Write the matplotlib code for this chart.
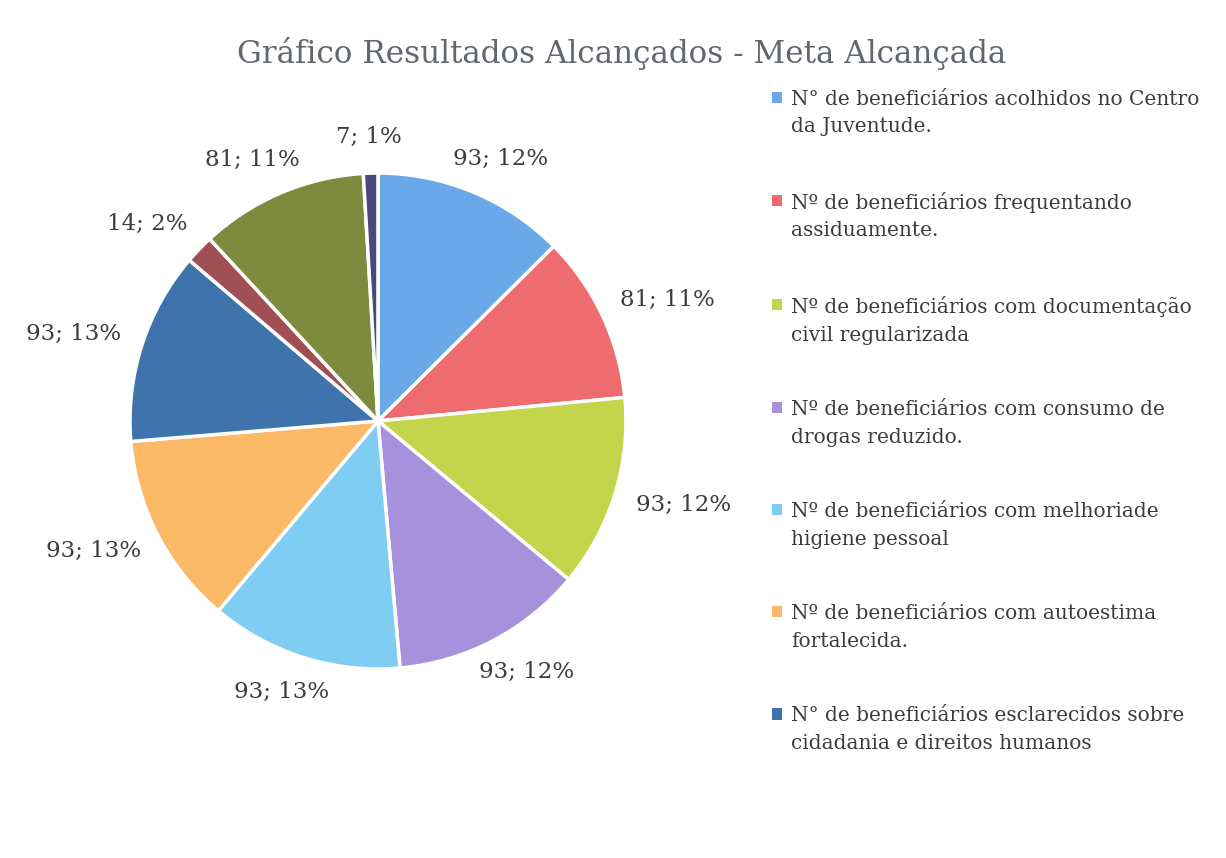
import numpy as np
import matplotlib.pyplot as plt
from matplotlib.patches import Patch, Rectangle
from matplotlib.legend_handler import HandlerPatch

# data
valores = [93, 81, 93, 93, 93, 93, 93, 14, 81, 7]
percentuais = ["12%", "11%", "12%", "12%", "13%", "13%", "13%", "2%", "11%", "1%"]
legendas = [
    "N° de beneficiários acolhidos no Centro\nda Juventude.",
    "Nº de beneficiários frequentando\nassiduamente.",
    "Nº de beneficiários com documentação\ncivil regularizada",
    "Nº de beneficiários com consumo de\ndrogas reduzido.",
    "Nº de beneficiários com melhoriade\nhigiene pessoal",
    "Nº de beneficiários com autoestima\nfortalecida.",
    "N° de beneficiários esclarecidos sobre\ncidadania e direitos humanos",
]
cores = ["#6aa8ea", "#ee6b6e", "#c3d54b", "#a891dc", "#7fcdf2",
         "#fbb866", "#3f73ab", "#a04f55", "#7e8b3e", "#4a4a7a"]

plt.rcParams['font.family'] = ['DejaVu Serif']
txt = "#3c3c3c"

fig = plt.figure(figsize=(12.26, 8.58), dpi=100)
ax = fig.add_axes([0.106, 0.2203, 0.4046, 0.578])

wedges, _ = ax.pie(valores, colors=cores, startangle=90, counterclock=False,
                   wedgeprops=dict(edgecolor="white", linewidth=2.5))
ax.set_aspect("equal")
ax.set_xlim(-1, 1)
ax.set_ylim(-1, 1)

# data labels "valor; %" placed just outside the rim (excel style)
hw, hh = 0.19, 0.045
for w, v, p in zip(wedges, valores, percentuais):
    ang = np.deg2rad((w.theta1 + w.theta2) / 2)
    dx, dy = np.cos(ang), np.sin(ang)
    x = 1.1 * dx + hw * dx
    y = 1.1 * dy + hh * dy
    ax.text(x, y, f"{v}; {p}", ha="center", va="center",
            fontsize=16.5, color=txt, clip_on=False)

fig.text(0.507, 0.938, "Gráfico Resultados Alcançados - Meta Alcançada",
         ha="center", va="center", fontsize=22.3, color="#62666e")


# legend key sits on the first text line
def chave(legend, orig_handle, xdescent, ydescent, width, height, fontsize):
    return Rectangle((-xdescent, -ydescent + 0.8 * fontsize), width, height)


handles = [Patch(facecolor=c) for c in cores[:7]]
leg = fig.legend(handles, legendas, loc="upper left", bbox_to_anchor=(0.615, 0.916),
                 frameon=False, fontsize=14.5, labelcolor=txt, handlelength=0.5,
                 handleheight=0.5, handletextpad=0.45, labelspacing=2.77,
                 handler_map={Patch: HandlerPatch(patch_func=chave)})
for t in leg.get_texts():
    t.set_linespacing(1.55)

fig.savefig("out.png", dpi=100)
